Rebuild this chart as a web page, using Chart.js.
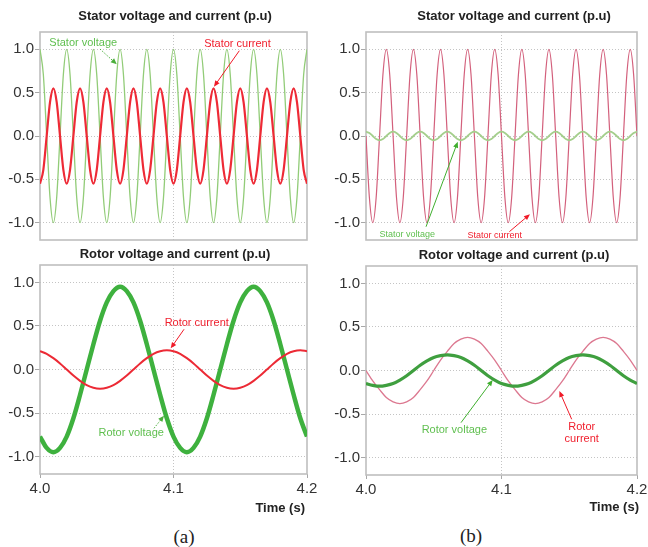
<!DOCTYPE html>
<html>
<head>
<meta charset="utf-8">
<script src="https://cdn.jsdelivr.net/npm/chart.js@4.4.1/dist/chart.umd.min.js"></script>
<style>
  html, body { margin: 0; padding: 0; background: #fff; }
  body { width: 648px; height: 547px; overflow: hidden; position: relative; font-family: "Liberation Sans", Arial, sans-serif; }
  canvas { position: absolute; }
  .lbl { position: absolute; transform: translate(-50%, -50%); white-space: nowrap; line-height: 1; color: #222; }
  .ttl { font-weight: bold; font-size: 13px; }
  .axis { font-weight: bold; font-size: 13px; transform: translate(-100%, -50%); }
  .cap { font-family: "Liberation Serif", "Times New Roman", serif; font-size: 19px; }
</style>
</head>
<body>
<canvas id="tl" width="330" height="240" style="left:0px;top:14px"></canvas>
<canvas id="tr" width="340" height="240" style="left:320px;top:14px"></canvas>
<canvas id="bl" width="330" height="253" style="left:0px;top:247px"></canvas>
<canvas id="br" width="340" height="253" style="left:320px;top:248px"></canvas>

<div class="lbl ttl" style="left:175px;top:15px">Stator voltage and current (p.u)</div>
<div class="lbl ttl" style="left:514px;top:15px">Stator voltage and current (p.u)</div>
<div class="lbl ttl" style="left:175px;top:253px">Rotor voltage and current (p.u)</div>
<div class="lbl ttl" style="left:514px;top:254px">Rotor voltage and current (p.u)</div>
<div class="lbl axis" style="left:305px;top:507px">Time (s)</div>
<div class="lbl axis" style="left:639px;top:506px">Time (s)</div>
<div class="lbl cap" style="left:184px;top:536px">(a)</div>
<div class="lbl cap" style="left:471px;top:535px">(b)</div>

<script>
// Sample times (s): 2.5 ms steps for the 50 Hz stator plots, 5 ms steps for the rotor plots
const timeFast = [4, 4.0025, 4.005, 4.0075, 4.01, 4.0125, 4.015, 4.0175, 4.02, 4.0225, 4.025, 4.0275, 4.03, 4.0325, 4.035, 4.0375, 4.04, 4.0425, 4.045, 4.0475, 4.05, 4.0525, 4.055, 4.0575, 4.06, 4.0625, 4.065, 4.0675, 4.07, 4.0725, 4.075, 4.0775, 4.08, 4.0825, 4.085, 4.0875, 4.09, 4.0925, 4.095, 4.0975, 4.1, 4.1025, 4.105, 4.1075, 4.11, 4.1125, 4.115, 4.1175, 4.12, 4.1225, 4.125, 4.1275, 4.13, 4.1325, 4.135, 4.1375, 4.14, 4.1425, 4.145, 4.1475, 4.15, 4.1525, 4.155, 4.1575, 4.16, 4.1625, 4.165, 4.1675, 4.17, 4.1725, 4.175, 4.1775, 4.18, 4.1825, 4.185, 4.1875, 4.19, 4.1925, 4.195, 4.1975, 4.2];
const timeSlow = [4, 4.005, 4.01, 4.015, 4.02, 4.025, 4.03, 4.035, 4.04, 4.045, 4.05, 4.055, 4.06, 4.065, 4.07, 4.075, 4.08, 4.085, 4.09, 4.095, 4.1, 4.105, 4.11, 4.115, 4.12, 4.125, 4.13, 4.135, 4.14, 4.145, 4.15, 4.155, 4.16, 4.165, 4.17, 4.175, 4.18, 4.185, 4.19, 4.195, 4.2];

// (a) stator, p.u.
const statorVoltageA = [1, 0.71, 0, -0.71, -1, -0.71, 0, 0.71, 1, 0.71, 0, -0.71, -1, -0.71, 0, 0.71, 1, 0.71, 0, -0.71, -1, -0.71, 0, 0.71, 1, 0.71, 0, -0.71, -1, -0.71, 0, 0.71, 1, 0.71, 0, -0.71, -1, -0.71, 0, 0.71, 1, 0.71, 0, -0.71, -1, -0.71, 0, 0.71, 1, 0.71, 0, -0.71, -1, -0.71, 0, 0.71, 1, 0.71, 0, -0.71, -1, -0.71, 0, 0.71, 1, 0.71, 0, -0.71, -1, -0.71, 0, 0.71, 1, 0.71, 0, -0.71, -1, -0.71, 0, 0.71, 1];
const statorCurrentA = [-0.55, -0.39, 0, 0.39, 0.55, 0.39, 0, -0.39, -0.55, -0.39, 0, 0.39, 0.55, 0.39, 0, -0.39, -0.55, -0.39, 0, 0.39, 0.55, 0.39, 0, -0.39, -0.55, -0.39, 0, 0.39, 0.55, 0.39, 0, -0.39, -0.55, -0.39, 0, 0.39, 0.55, 0.39, 0, -0.39, -0.55, -0.39, 0, 0.39, 0.55, 0.39, 0, -0.39, -0.55, -0.39, 0, 0.39, 0.55, 0.39, 0, -0.39, -0.55, -0.39, 0, 0.39, 0.55, 0.39, 0, -0.39, -0.55, -0.39, 0, 0.39, 0.55, 0.39, 0, -0.39, -0.55, -0.39, 0, 0.39, 0.55, 0.39, 0, -0.39, -0.55];
// (b) stator, p.u.
const statorVoltageB = [0.05, 0.035, 0, -0.035, -0.05, -0.035, 0, 0.035, 0.05, 0.035, 0, -0.035, -0.05, -0.035, 0, 0.035, 0.05, 0.035, 0, -0.035, -0.05, -0.035, 0, 0.035, 0.05, 0.035, 0, -0.035, -0.05, -0.035, 0, 0.035, 0.05, 0.035, 0, -0.035, -0.05, -0.035, 0, 0.035, 0.05, 0.035, 0, -0.035, -0.05, -0.035, 0, 0.035, 0.05, 0.035, 0, -0.035, -0.05, -0.035, 0, 0.035, 0.05, 0.035, 0, -0.035, -0.05, -0.035, 0, 0.035, 0.05, 0.035, 0, -0.035, -0.05, -0.035, 0, 0.035, 0.05, 0.035, 0, -0.035, -0.05, -0.035, 0, 0.035, 0.05];
const statorCurrentB = [0, -0.71, -1, -0.71, 0, 0.71, 1, 0.71, 0, -0.71, -1, -0.71, 0, 0.71, 1, 0.71, 0, -0.71, -1, -0.71, 0, 0.71, 1, 0.71, 0, -0.71, -1, -0.71, 0, 0.71, 1, 0.71, 0, -0.71, -1, -0.71, 0, 0.71, 1, 0.71, 0, -0.71, -1, -0.71, 0, 0.71, 1, 0.71, 0, -0.71, -1, -0.71, 0, 0.71, 1, 0.71, 0, -0.71, -1, -0.71, 0, 0.71, 1, 0.71, 0, -0.71, -1, -0.71, 0, 0.71, 1, 0.71, 0, -0.71, -1, -0.71, 0, 0.71, 1, 0.71, 0];
// (a) rotor, p.u.
const rotorVoltageA = [-0.77, -0.9, -0.95, -0.9, -0.77, -0.56, -0.29, 0, 0.29, 0.56, 0.77, 0.9, 0.95, 0.9, 0.77, 0.56, 0.29, 0, -0.29, -0.56, -0.77, -0.9, -0.95, -0.9, -0.77, -0.56, -0.29, 0, 0.29, 0.56, 0.77, 0.9, 0.95, 0.9, 0.77, 0.56, 0.29, 0, -0.29, -0.56, -0.77];
const rotorCurrentA = [0.21, 0.18, 0.13, 0.07, 0, -0.07, -0.13, -0.18, -0.21, -0.22, -0.21, -0.18, -0.13, -0.07, 0, 0.07, 0.13, 0.18, 0.21, 0.22, 0.21, 0.18, 0.13, 0.07, 0, -0.07, -0.13, -0.18, -0.21, -0.22, -0.21, -0.18, -0.13, -0.07, 0, 0.07, 0.13, 0.18, 0.21, 0.22, 0.21];
// (b) rotor, p.u.
const rotorVoltageB = [-0.15, -0.17, -0.18, -0.17, -0.15, -0.11, -0.06, 0, 0.06, 0.11, 0.15, 0.17, 0.18, 0.17, 0.15, 0.11, 0.06, 0, -0.06, -0.11, -0.15, -0.17, -0.18, -0.17, -0.15, -0.11, -0.06, 0, 0.06, 0.11, 0.15, 0.17, 0.18, 0.17, 0.15, 0.11, 0.06, 0, -0.06, -0.11, -0.15];
const rotorCurrentB = [0, -0.12, -0.22, -0.31, -0.36, -0.38, -0.36, -0.31, -0.22, -0.12, 0, 0.12, 0.22, 0.31, 0.36, 0.38, 0.36, 0.31, 0.22, 0.12, 0, -0.12, -0.22, -0.31, -0.36, -0.38, -0.36, -0.31, -0.22, -0.12, 0, 0.12, 0.22, 0.31, 0.36, 0.38, 0.36, 0.31, 0.22, 0.12, 0];

// Axis ticks
const yTicks = [-1, -0.5, 0, 0.5, 1];
const xTicks = [4.0, 4.1, 4.2];
const xTickLabels = ['4.0', '4.1', '4.2'];

const FONT = '"Liberation Sans", Arial, sans-serif';
const TXT_GREEN = '#5fbf4f';
const TXT_RED = '#f0202e';

const pts = (xs, ys) => ys.map((v, i) => ({ x: xs[i], y: v }));

// Frame around the plotting area
const framePlugin = {
  id: 'frame',
  beforeDatasetsDraw(chart) {
    const a = chart.chartArea, ctx = chart.ctx;
    ctx.save();
    ctx.strokeStyle = '#bfbfbf';
    ctx.lineWidth = 1.6;
    ctx.strokeRect(a.left, a.top, a.right - a.left, a.bottom - a.top);
    ctx.restore();
  }
};

// Annotation labels with arrows, placed in data coordinates
const notesPlugin = {
  id: 'notes',
  afterDatasetsDraw(chart, args, opts) {
    const ctx = chart.ctx, xs = chart.scales.x, ys = chart.scales.y;
    ctx.save();
    (opts.arrows || []).forEach(a => {
      const x1 = xs.getPixelForValue(a.from[0]), y1 = ys.getPixelForValue(a.from[1]);
      const x2 = xs.getPixelForValue(a.to[0]), y2 = ys.getPixelForValue(a.to[1]);
      const ang = Math.atan2(y2 - y1, x2 - x1);
      const hl = 6, hw = 2.6;
      ctx.strokeStyle = a.color; ctx.fillStyle = a.color; ctx.lineWidth = 1;
      ctx.setLineDash(a.dash || []);
      ctx.beginPath();
      ctx.moveTo(x1, y1);
      ctx.lineTo(x2 - Math.cos(ang) * hl * 0.8, y2 - Math.sin(ang) * hl * 0.8);
      ctx.stroke();
      ctx.setLineDash([]);
      ctx.beginPath();
      ctx.moveTo(x2, y2);
      ctx.lineTo(x2 - Math.cos(ang) * hl - Math.sin(ang) * hw, y2 - Math.sin(ang) * hl + Math.cos(ang) * hw);
      ctx.lineTo(x2 - Math.cos(ang) * hl + Math.sin(ang) * hw, y2 - Math.sin(ang) * hl - Math.cos(ang) * hw);
      ctx.closePath();
      ctx.fill();
    });
    (opts.texts || []).forEach(t => {
      ctx.font = t.size + 'px ' + FONT;
      ctx.fillStyle = t.color;
      ctx.textAlign = 'center';
      ctx.textBaseline = 'middle';
      ctx.fillText(t.text, xs.getPixelForValue(t.x), ys.getPixelForValue(t.y));
    });
    ctx.restore();
  }
};

function makeChart(id, datasets, cfg) {
  const dotted = { display: false, dash: [1, 2] };
  return new Chart(document.getElementById(id), {
    type: 'line',
    data: { datasets },
    plugins: [framePlugin, notesPlugin],
    options: {
      responsive: false,
      animation: false,
      devicePixelRatio: 1,
      layout: { padding: cfg.padding },
      elements: { point: { radius: 0 }, line: { cubicInterpolationMode: 'monotone' } },
      plugins: {
        legend: { display: false },
        tooltip: { enabled: false },
        notes: cfg.notes
      },
      scales: {
        x: {
          type: 'linear', min: 4.0, max: 4.2,
          afterBuildTicks: s => { s.ticks = xTicks.map(v => ({ value: v })); },
          afterFit: s => { s.height = cfg.xHeight; },
          border: dotted,
          grid: {
            color: c => (c.index === 1 ? '#c4c4c4' : 'rgba(0,0,0,0)'),
            lineWidth: 1,
            drawTicks: cfg.xLabels,
            tickLength: 4,
            tickColor: '#a8a8a8',
            tickBorderDash: []
          },
          ticks: {
            display: cfg.xLabels,
            maxRotation: 0, autoSkip: false, padding: 2,
            color: '#333', font: { family: FONT, size: 15 },
            callback: (v, i) => xTickLabels[i]
          }
        },
        y: {
          min: -1.2, max: 1.2,
          afterBuildTicks: s => { s.ticks = yTicks.map(v => ({ value: v })); },
          afterFit: s => { s.width = cfg.yWidth; },
          border: dotted,
          grid: {
            color: '#c4c4c4', lineWidth: 1,
            tickLength: 5, tickColor: '#a8a8a8', tickBorderDash: []
          },
          ticks: {
            padding: 1, color: '#333', font: { family: FONT, size: 15 },
            callback: v => Number(v).toFixed(1)
          }
        }
      }
    }
  });
}

// (a) stator
makeChart('tl', [
  { data: pts(timeFast, statorCurrentA), borderColor: '#ee2a36', borderWidth: 2.2 },
  { data: pts(timeFast, statorVoltageA), borderColor: '#92cc78', borderWidth: 1.3 }
], {
  padding: { left: 0, top: 18, right: 23, bottom: 14 }, yWidth: 40, xHeight: 0, xLabels: false,
  notes: {
    texts: [
      { text: 'Stator voltage', x: 4.0324, y: 1.077, color: TXT_GREEN, size: 11 },
      { text: 'Stator current', x: 4.1479, y: 1.061, color: TXT_RED, size: 11 }
    ],
    arrows: [
      { from: [4.0449, 1.004], to: [4.0575, 0.827], color: '#4cae3c', dash: [1.5, 1.5] },
      { from: [4.1493, 0.984], to: [4.1303, 0.569], color: '#f01a28' }
    ]
  }
});

// (b) stator
makeChart('tr', [
  { data: pts(timeFast, statorVoltageB), borderColor: '#a4cf8c', borderWidth: 1.8 },
  { data: pts(timeFast, statorCurrentB), borderColor: '#d3607c', borderWidth: 1.2 }
], {
  padding: { left: 0, top: 18, right: 23, bottom: 14 }, yWidth: 46, xHeight: 0, xLabels: false,
  notes: {
    texts: [
      { text: 'Stator voltage', x: 4.0304, y: -1.131, color: TXT_GREEN, size: 9 },
      { text: 'Stator current', x: 4.0950, y: -1.154, color: TXT_RED, size: 9 }
    ],
    arrows: [
      { from: [4.0443, -1.047], to: [4.0677, -0.066], color: '#3fae2e' },
      { from: [4.1058, -1.104], to: [4.1210, -0.903], color: '#f01a28' }
    ]
  }
});

// (a) rotor
makeChart('bl', [
  { data: pts(timeSlow, rotorCurrentA), borderColor: '#ec2a35', borderWidth: 2 },
  { data: pts(timeSlow, rotorVoltageA), borderColor: '#3eb13e', borderWidth: 4.5 }
], {
  padding: { left: 0, top: 18, right: 23, bottom: 0 }, yWidth: 40, xHeight: 26, xLabels: true,
  notes: {
    texts: [
      { text: 'Rotor current', x: 4.1174, y: 0.537, color: TXT_RED, size: 11 },
      { text: 'Rotor voltage', x: 4.0683, y: -0.726, color: TXT_GREEN, size: 11 }
    ],
    arrows: [
      { from: [4.1079, 0.462], to: [4.0979, 0.243], color: '#f01a28' },
      { from: [4.0854, -0.675], to: [4.0929, -0.531], color: '#4cae3c', dash: [1.5, 1.5] }
    ]
  }
});

// (b) rotor
makeChart('br', [
  { data: pts(timeSlow, rotorVoltageB), borderColor: '#3f9f3f', borderWidth: 3.2 },
  { data: pts(timeSlow, rotorCurrentB), borderColor: '#dc7890', borderWidth: 1.3 }
], {
  padding: { left: 0, top: 18, right: 23, bottom: 0 }, yWidth: 46, xHeight: 26, xLabels: true,
  notes: {
    texts: [
      { text: 'Rotor voltage', x: 4.0652, y: -0.683, color: TXT_GREEN, size: 11 },
      { text: 'Rotor', x: 4.1592, y: -0.652, color: TXT_RED, size: 11 },
      { text: 'current', x: 4.1592, y: -0.790, color: TXT_RED, size: 11 }
    ],
    arrows: [
      { from: [4.0701, -0.599], to: [4.0935, -0.109], color: '#3fae2e' },
      { from: [4.1518, -0.560], to: [4.1427, -0.235], color: '#f01a28' }
    ]
  }
});
</script>
</body>
</html>
